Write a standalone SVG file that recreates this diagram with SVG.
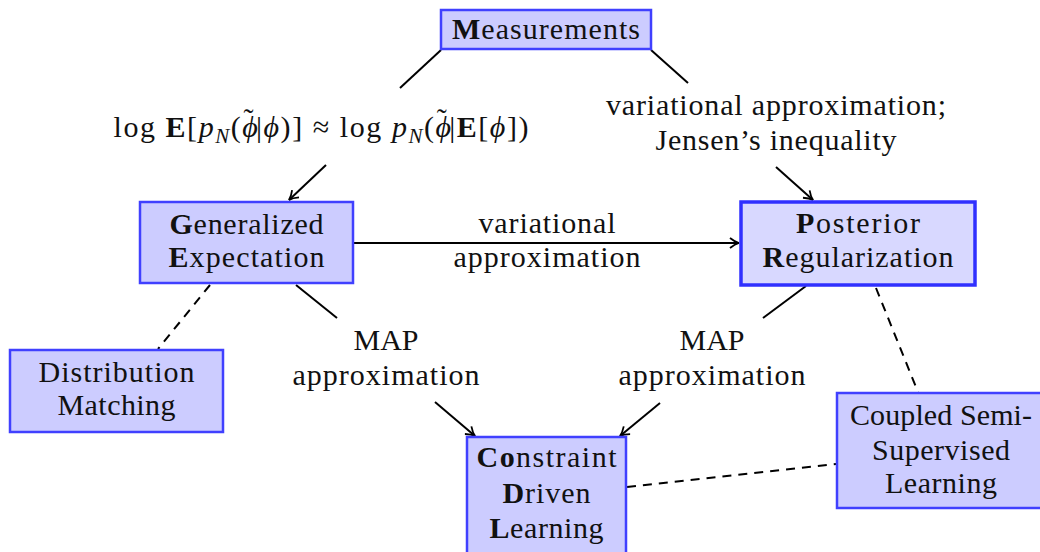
<svg xmlns="http://www.w3.org/2000/svg" width="1040" height="552" viewBox="0 0 1040 552" font-family="'Liberation Serif', 'DejaVu Serif', 'Times New Roman', serif">
<style>
.box{fill:#ccccff;stroke:#4040ff;stroke-width:2.5}
.boxpr{fill:#d8d8ff;stroke:#3030ff;stroke-width:3.5}
text{font-family:'Liberation Serif','DejaVu Serif','Times New Roman',serif;font-size:30px;fill:#111;text-anchor:middle}
.b{font-weight:bold}
.i{font-style:italic}
.edge{stroke:#000;stroke-width:2;fill:none}
.dash{stroke:#000;stroke-width:2;fill:none;stroke-dasharray:9 7}
</style>
<defs>
<marker id="arr" viewBox="0 0 12 12" refX="10" refY="6" markerWidth="12" markerHeight="12" markerUnits="userSpaceOnUse" orient="auto">
<path d="M1,1 Q6,5 10,6 Q6,7 1,11" fill="none" stroke="#000" stroke-width="1.8"/>
</marker>
</defs>
<rect width="1040" height="552" fill="#fff"/>
<g id="connectors">
<line class="edge" x1="441" y1="50" x2="400" y2="88"/>
<line class="edge" x1="326" y1="165" x2="289" y2="200" marker-end="url(#arr)"/>
<line class="edge" x1="651" y1="50" x2="688" y2="83"/>
<line class="edge" x1="776" y1="167" x2="813" y2="200" marker-end="url(#arr)"/>
<line class="edge" x1="354" y1="243" x2="739" y2="243" marker-end="url(#arr)"/>
<line class="edge" x1="296" y1="285" x2="337" y2="318"/>
<line class="edge" x1="435" y1="402" x2="475" y2="436" marker-end="url(#arr)"/>
<line class="edge" x1="806" y1="286" x2="763" y2="318"/>
<line class="edge" x1="660" y1="403" x2="620" y2="436" marker-end="url(#arr)"/>
<line class="dash" x1="210" y1="285" x2="158" y2="349"/>
<line class="dash" x1="876" y1="288" x2="918" y2="392"/>
<line class="dash" x1="627" y1="487" x2="836" y2="464"/>
<text x="321" y="137" textLength="415">log <tspan class="b">E</tspan>[<tspan class="i">p</tspan><tspan class="i" font-size="21" dy="6">N</tspan><tspan dy="-6">(</tspan><tspan class="i">ϕ</tspan><tspan dx="-16" dy="-8" font-size="30">˜</tspan><tspan dx="1" dy="8">|</tspan><tspan class="i">ϕ</tspan>)] ≈ log <tspan class="i">p</tspan><tspan class="i" font-size="21" dy="6">N</tspan><tspan dy="-6">(</tspan><tspan class="i">ϕ</tspan><tspan dx="-16" dy="-8" font-size="30">˜</tspan><tspan dx="1" dy="8">|</tspan><tspan class="b">E</tspan>[<tspan class="i">ϕ</tspan>])</text>
<text x="776" y="115" textLength="340">variational approximation;</text>
<text x="776" y="150" textLength="241">Jensen’s inequality</text>
<text x="547" y="233" textLength="137">variational</text>
<text x="547" y="267" textLength="187">approximation</text>
<text x="386" y="350">MAP</text>
<text x="386" y="385" textLength="187">approximation</text>
<text x="712" y="350">MAP</text>
<text x="712" y="385" textLength="187">approximation</text>
</g>
<g id="measurements">
<rect class="box" x="441" y="10" width="210" height="39"/>
<text x="546" y="39" textLength="188"><tspan class="b">M</tspan>easurements</text>
</g>
<g id="generalized-expectation">
<rect class="box" x="140" y="202" width="213" height="81"/>
<text x="246.5" y="234" textLength="154"><tspan class="b">G</tspan>eneralized</text>
<text x="246.5" y="267" textLength="156"><tspan class="b">E</tspan>xpectation</text>
</g>
<g id="posterior-regularization">
<rect class="boxpr" x="741" y="202" width="234" height="83"/>
<text x="858" y="233" textLength="124"><tspan class="b">P</tspan>osterior</text>
<text x="858" y="267" textLength="191"><tspan class="b">R</tspan>egularization</text>
</g>
<g id="distribution-matching">
<rect class="box" x="10" y="350" width="213" height="82"/>
<text x="116.5" y="382" textLength="156">Distribution</text>
<text x="116.5" y="415" textLength="118">Matching</text>
</g>
<g id="constraint-driven-learning">
<rect class="box" x="467" y="437" width="159" height="125"/>
<text x="546.5" y="467" textLength="140"><tspan class="b">Co</tspan>nstraint</text>
<text x="546.5" y="503" textLength="88"><tspan class="b">D</tspan>riven</text>
<text x="546.5" y="538" textLength="114"><tspan class="b">L</tspan>earning</text>
</g>
<g id="coupled-semi-supervised-learning">
<rect class="box" x="837" y="393" width="210" height="115"/>
<text x="941" y="425" textLength="182">Coupled Semi-</text>
<text x="941" y="460" textLength="138">Supervised</text>
<text x="941" y="493" textLength="112">Learning</text>
</g>
</svg>
